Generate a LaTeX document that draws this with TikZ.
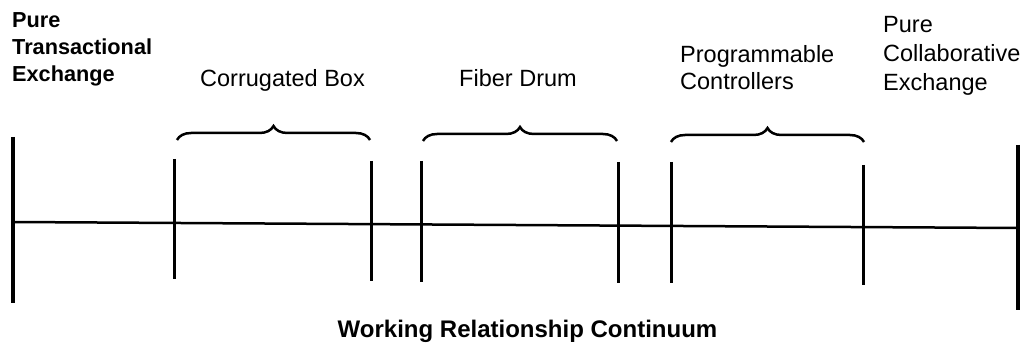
\documentclass[tikz,border=0pt]{standalone}
\usepackage{fontspec}
\setmainfont{Liberation Sans}
\usetikzlibrary{decorations.pathreplacing}
\begin{document}
\begin{tikzpicture}[x=1pt,y=-1pt,
  mainline/.style={line width=2.5pt},
  bar/.style={line width=3pt},
  endbar/.style={line width=3.4pt},
  bracket/.style={line width=2.5pt, decorate, decoration={brace, amplitude=14pt}},
  lbl/.style={inner sep=0pt, align=left, font=\fontsize{23.5}{27}\selectfont},
  boldlbl/.style={inner sep=0pt, align=left, font=\fontsize{21.7}{27}\selectfont\bfseries},
  title/.style={inner sep=0pt, font=\fontsize{24}{28}\selectfont\bfseries},
]
\useasboundingbox (0,0) rectangle (1026,347);

% end points of the continuum
\coordinate (Lt) at (13,137);  \coordinate (Lb) at (13,303);
\coordinate (Rt) at (1018,145); \coordinate (Rb) at (1018,310);
\coordinate (Lm) at (13,222);  \coordinate (Rm) at (1018,228);

% interval bars
\coordinate (a1t) at (174,159); \coordinate (a1b) at (174,279);
\coordinate (a2t) at (371,161); \coordinate (a2b) at (371,281);
\coordinate (b1t) at (421,161); \coordinate (b1b) at (421,282);
\coordinate (b2t) at (618,162); \coordinate (b2b) at (618,283);
\coordinate (c1t) at (671,162); \coordinate (c1b) at (671,283);
\coordinate (c2t) at (863,165); \coordinate (c2b) at (863,285);

% brace ends
\coordinate (a1) at (177,140); \coordinate (a2) at (370,140);
\coordinate (b1) at (423,141); \coordinate (b2) at (617,141);
\coordinate (c1) at (671,142); \coordinate (c2) at (864,142);

\draw[mainline] (Lm) -- (Rm);
\draw[endbar] (Lt) -- (Lb);
\draw[endbar] (Rt) -- (Rb);
\foreach \p in {a1,a2,b1,b2,c1,c2} \draw[bar] (\p t) -- (\p b);

\draw[bracket] (a1) -- (a2);
\draw[bracket] (b1) -- (b2);
\draw[bracket] (c1) -- (c2);

% labels
\node[boldlbl, anchor=north west] (pte) at (12,12) {Pure\\Transactional\\Exchange};
\node[lbl, anchor=base] (cb) at (282.5,87) {Corrugated Box};
\node[lbl, anchor=base] (fd) at (518,87) {Fiber Drum};
\node[lbl, anchor=north west] (pc) at (680,45) {Programmable\\Controllers};
\node[lbl, anchor=north west, font=\fontsize{23.5}{29}\selectfont] (pce) at (883,16) {Pure\\Collaborative\\Exchange};
\node[title, anchor=base] (wrc) at (527.5,338) {Working Relationship Continuum};
\end{tikzpicture}
\end{document}
